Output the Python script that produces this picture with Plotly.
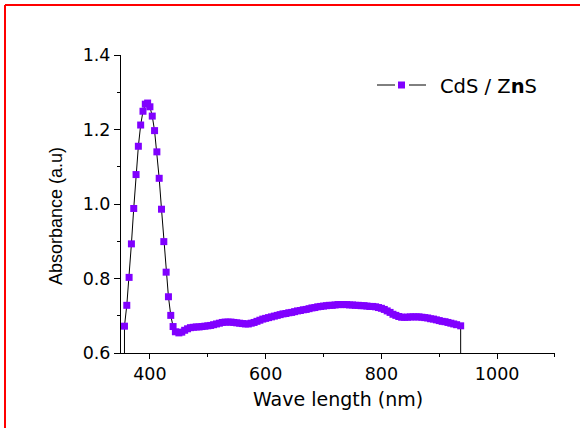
import plotly.graph_objects as go

# ---- data ----
wavelength = [356, 356, 360, 364, 368, 372, 376, 380, 384, 388, 392, 396, 400, 404, 408,
              412, 416, 420, 424, 428, 432, 436, 440, 444,
              450, 455, 460, 465, 470, 475, 480, 485, 490, 495, 500, 505, 510, 515, 520,
              525, 530, 535, 540, 545, 550, 555, 560, 565, 570, 575, 580, 585, 590, 595,
              600, 605, 610, 615, 620, 625, 630, 635, 640, 645, 650, 655, 660, 665, 670,
              675, 680, 685, 690, 695, 700, 705, 710, 715, 720, 725, 730, 735, 740, 745,
              750, 755, 760, 765, 770, 775, 780, 785, 790, 795, 800, 805, 810, 815, 820,
              825, 830, 835, 840, 845, 850, 855, 860, 865, 870, 875, 880, 885, 890, 895,
              900, 905, 910, 915, 920, 925, 930, 937, 937]
absorbance = [0.0, 0.672, 0.728, 0.803, 0.893, 0.988, 1.079, 1.155, 1.212, 1.249, 1.268, 1.271,
              1.261, 1.236, 1.197, 1.140, 1.069, 0.986, 0.899, 0.817, 0.751, 0.701, 0.671, 0.657,
              0.654, 0.656, 0.661, 0.665, 0.668, 0.669, 0.670, 0.670, 0.671, 0.672, 0.673, 0.674,
              0.676, 0.678, 0.680, 0.682, 0.683, 0.683, 0.683, 0.682, 0.681, 0.680, 0.679, 0.678,
              0.678, 0.680, 0.682, 0.685, 0.688, 0.691, 0.693, 0.695, 0.697, 0.699, 0.701, 0.703,
              0.705, 0.706, 0.708, 0.709, 0.711, 0.713, 0.714, 0.716, 0.717, 0.719, 0.721, 0.722,
              0.724, 0.725, 0.726, 0.727, 0.728, 0.728, 0.729, 0.730, 0.730, 0.730, 0.730, 0.729,
              0.729, 0.728, 0.728, 0.727, 0.727, 0.726, 0.725, 0.725, 0.724, 0.722, 0.720, 0.717,
              0.713, 0.709, 0.704, 0.701, 0.698, 0.696, 0.696, 0.696, 0.697, 0.697, 0.697, 0.697,
              0.696, 0.695, 0.694, 0.692, 0.691, 0.689, 0.687, 0.685, 0.684, 0.682, 0.680, 0.678,
              0.676, 0.673, 0.0]

x_ticks = [400, 600, 800, 1000]
x_minor = [500, 700, 900, 1100]
y_ticks = [0.6, 0.8, 1.0, 1.2, 1.4]
y_tick_text = ["0.6", "0.8", "1.0", "1.2", "1.4"]
y_minor = [0.7, 0.9, 1.1, 1.3]
series_name = "CdS / Z<b>n</b>S"
x_title = "Wave length (nm)"
y_title = "Absorbance (a.u)"

PURPLE = "#8000ff"
W, H = 580, 428
L, R, T, B = 121, 25, 55, 75
PW, PH = W - L - R, H - T - B


def px(x):
    return (x - L) / PW


def py(y):
    return (H - B - y) / PH


fig = go.Figure()
fig.add_trace(go.Scatter(
    x=wavelength, y=absorbance, mode="lines+markers", name=series_name,
    line=dict(color="black", width=1),
    marker=dict(symbol="square", size=7, color=PURPLE, line=dict(width=0)),
    showlegend=False,
))

tickfont = dict(family="DejaVu Sans", size=17.5, color="black")
fig.update_xaxes(
    range=[350, 1100.01], tickmode="array", tickvals=x_ticks,
    ticks="outside", ticklen=5, tickwidth=1, tickcolor="black",
    showline=True, linecolor="black", linewidth=1, showgrid=False, zeroline=False,
    tickfont=tickfont,
    minor=dict(tickmode="array", tickvals=x_minor, ticks="outside", ticklen=3,
               tickwidth=1, tickcolor="black", showgrid=False),
)
fig.update_yaxes(
    range=[0.6, 1.4], tickmode="array", tickvals=y_ticks, ticktext=y_tick_text,
    ticks="outside", ticklen=6, tickwidth=1, tickcolor="black",
    showline=True, linecolor="black", linewidth=1, showgrid=False, zeroline=False,
    tickfont=tickfont,
    minor=dict(tickmode="array", tickvals=y_minor, ticks="outside", ticklen=3,
               tickwidth=1, tickcolor="black", showgrid=False),
)

shapes = [
    # red frame
    dict(type="line", xref="paper", yref="paper", x0=px(5), x1=px(580), y0=py(5), y1=py(5),
         line=dict(color="#ff0000", width=2)),
    dict(type="line", xref="paper", yref="paper", x0=px(5), x1=px(5), y0=py(5), y1=py(430),
         line=dict(color="#ff0000", width=2)),
    # legend symbol
    dict(type="line", xref="paper", yref="paper", x0=px(377), x1=px(395), y0=py(85), y1=py(85),
         line=dict(color="black", width=1)),
    dict(type="line", xref="paper", yref="paper", x0=px(409), x1=px(426), y0=py(85), y1=py(85),
         line=dict(color="black", width=1)),
    dict(type="rect", xref="paper", yref="paper", x0=px(398), x1=px(405), y0=py(81.5), y1=py(88.5),
         line=dict(width=0), fillcolor=PURPLE),
]

annotations = [
    dict(text=series_name, xref="paper", yref="paper", x=px(438), y=py(86.5),
         xanchor="left", yanchor="middle", showarrow=False,
         font=dict(family="DejaVu Sans", size=19.5, color="black")),
    dict(text=x_title, xref="paper", yref="paper", x=px(338), y=py(399),
         xanchor="center", yanchor="middle", showarrow=False,
         font=dict(family="DejaVu Sans", size=19, color="black")),
    dict(text=y_title, xref="paper", yref="paper", x=px(56), y=py(216), textangle=-90,
         xanchor="center", yanchor="middle", showarrow=False,
         font=dict(family="Liberation Sans", size=18, color="black")),
]

fig.update_layout(
    width=W, height=H, margin=dict(l=L, r=R, t=T, b=B),
    paper_bgcolor="white", plot_bgcolor="white",
    shapes=shapes, annotations=annotations, showlegend=False,
)

fig.write_html("out.html")
